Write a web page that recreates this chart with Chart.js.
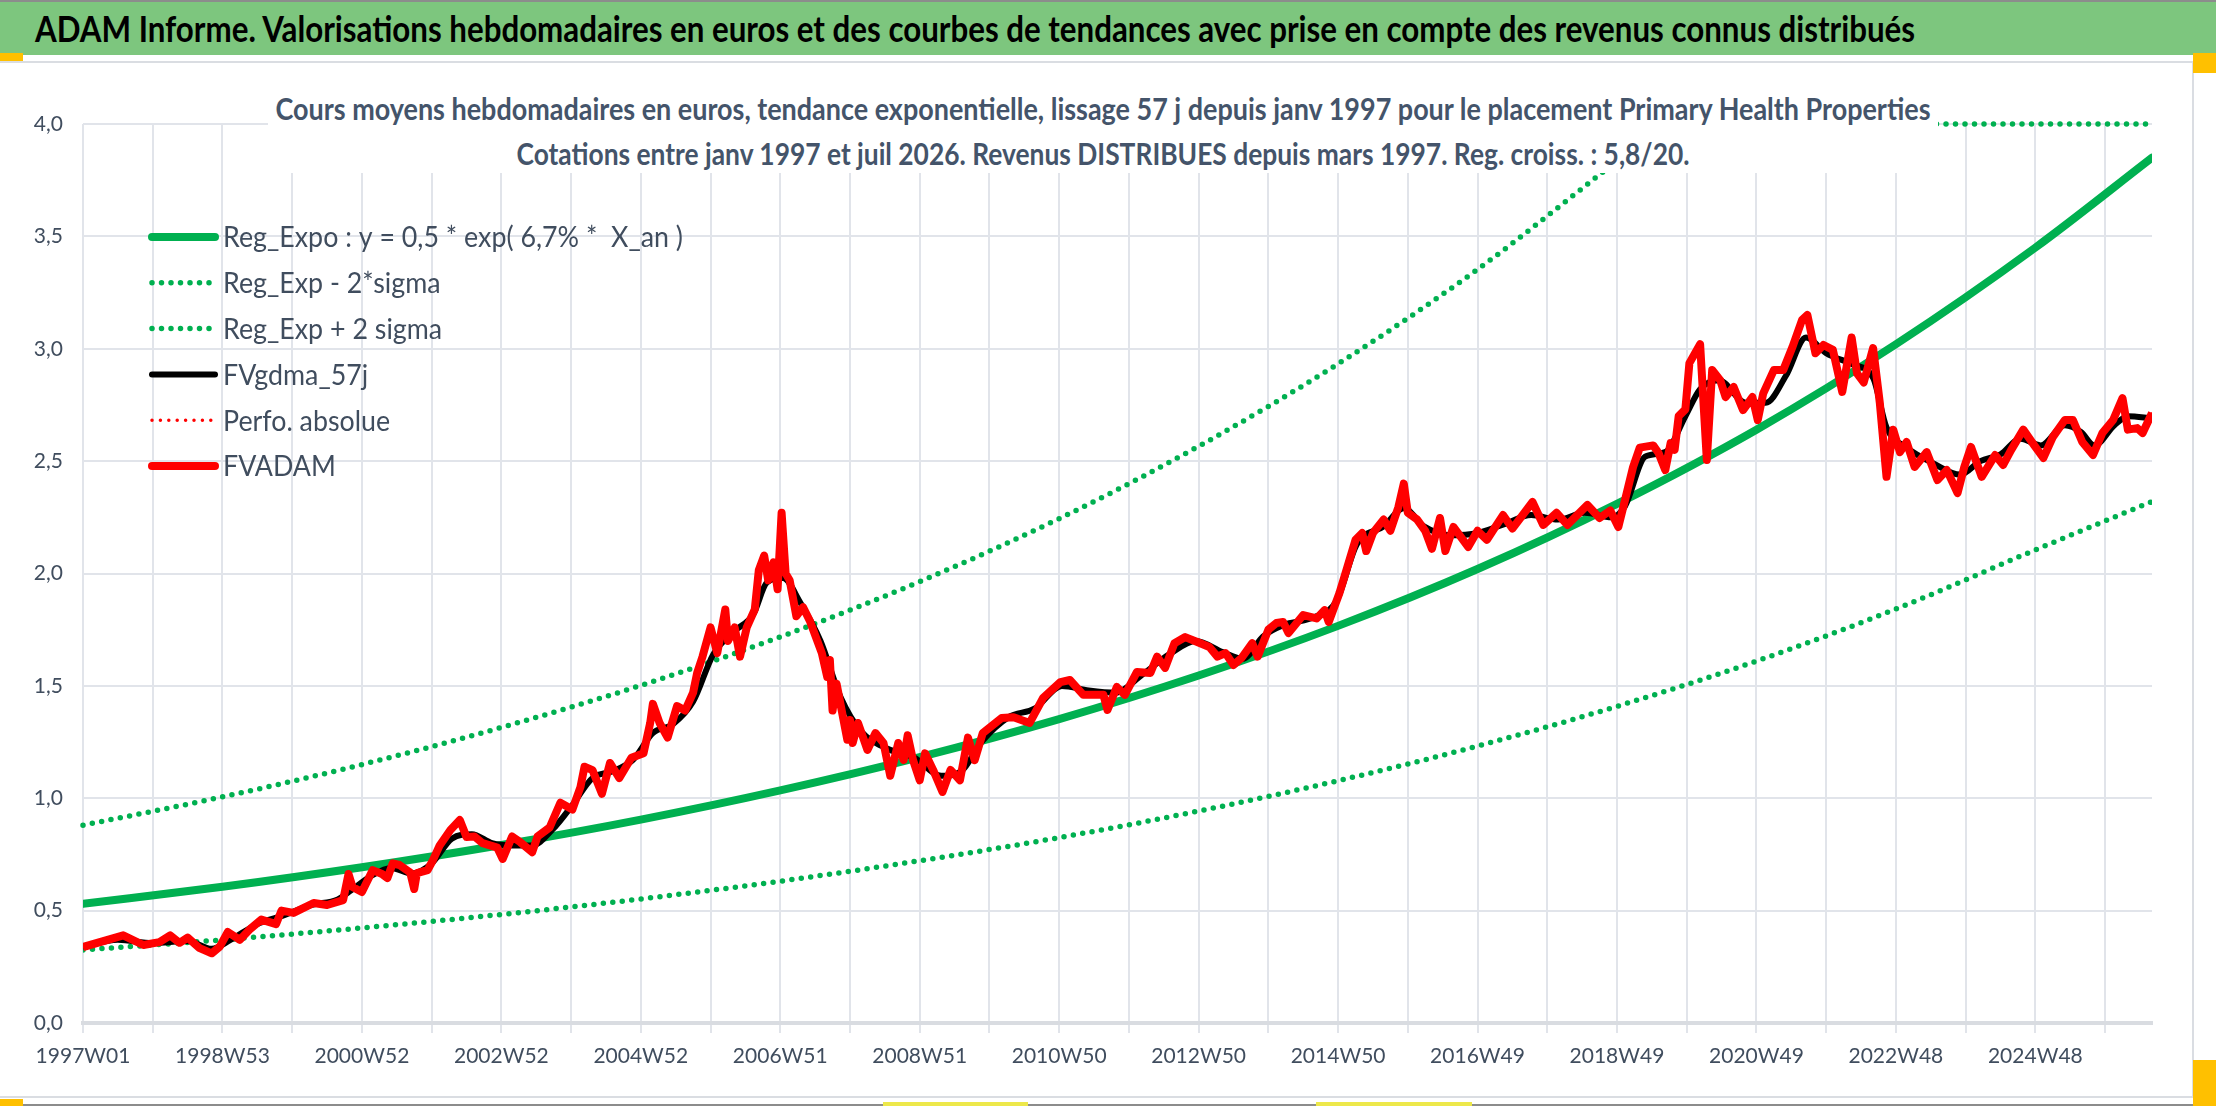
<!DOCTYPE html>
<html lang="fr">
<head>
<meta charset="utf-8">
<title>ADAM Informe - Primary Health Properties</title>
<script src="https://cdn.jsdelivr.net/npm/chart.js@4.4.1/dist/chart.umd.min.js"></script>
<style>
  html, body { margin: 0; padding: 0; background: #fff; }
  body { width: 2216px; height: 1106px; position: relative; overflow: hidden; font-family: Lato, 'Noto Sans', sans-serif; }
  #chart { position: absolute; left: 0; top: 0; }
  .deco { position: absolute; }
  #titlebar { position: absolute; left: 0; top: 2px; width: 2216px; height: 53px; background: #7DC67E; z-index: 3; }
  #title { position: absolute; left: 35px; top: 0; line-height: 53px; font-weight: bold; font-size: 36px; color: #000; white-space: pre; transform-origin: left center; }
  #subtitle { position: absolute; left: 268px; top: 80px; width: 1670px; height: 93px; background: #fff; z-index: 2; }
  .subline { position: absolute; left: 0; width: 100%; height: 40px; line-height: 40px; }
  .subline span { position: absolute; left: 50%; top: 0; font-weight: bold; font-size: 30.5px; color: #44546A; white-space: pre; transform-origin: left center; }
</style>
</head>
<body>
<div class="deco" style="left:0;top:0;width:2216px;height:2px;background:#8C8C8C"></div>
<div id="titlebar"><span id="title">ADAM Informe. Valorisations hebdomadaires en euros et des courbes de tendances avec prise en compte des revenus connus distribués</span></div>
<div class="deco" style="left:0;top:53px;width:23px;height:8px;background:#FFC000;z-index:4"></div>
<div class="deco" style="left:2193px;top:53px;width:23px;height:20px;background:#FFC000;z-index:4"></div>
<div class="deco" style="left:0;top:61px;width:2194px;height:2px;background:#DADDE2"></div>
<div class="deco" style="left:2192px;top:62px;width:2px;height:1036px;background:#DADDE2"></div>
<div class="deco" style="left:0;top:1096px;width:2194px;height:2px;background:#DADDE2"></div>
<div class="deco" style="left:0;top:1104px;width:2216px;height:2px;background:#8C8C8C"></div>
<div class="deco" style="left:0;top:1099px;width:23px;height:7px;background:#FFC000"></div>
<div class="deco" style="left:883px;top:1102px;width:145px;height:4px;background:#EDE84A"></div>
<div class="deco" style="left:1316px;top:1102px;width:156px;height:4px;background:#EDE84A"></div>
<div class="deco" style="left:2193px;top:1060px;width:23px;height:46px;background:#FFC000"></div>

<div id="subtitle">
  <div class="subline" style="top:8px"><span id="sub1">Cours moyens hebdomadaires en euros, tendance exponentielle, lissage 57 j depuis janv 1997 pour le placement Primary Health Properties</span></div>
  <div class="subline" style="top:53px"><span id="sub2">Cotations entre janv 1997 et juil 2026. Revenus DISTRIBUES depuis mars 1997. Reg. croiss. : 5,8/20.</span></div>
</div>

<canvas id="chart" width="2216" height="1106"></canvas>

<script>
// x = numéro de semaine depuis 1997W01
const weekTickLabels = ['1997W01', '1998W53', '2000W52', '2002W52', '2004W52', '2006W51', '2008W51',
  '2010W50', '2012W50', '2014W50', '2016W49', '2018W49', '2020W49', '2022W48', '2024W48'];
const lastWeek = 1543;

// tendances
const trendWeeks = [0, 104, 208, 312, 416, 520, 624, 728, 832, 936, 1040, 1144, 1248, 1352, 1456, 1543];
const regExpo = [0.53, 0.606, 0.693, 0.792, 0.905, 1.035, 1.183, 1.352, 1.546, 1.767, 2.02, 2.31, 2.64, 3.02, 3.45, 3.85];
const regExpLow = [0.325, 0.37, 0.423, 0.483, 0.552, 0.631, 0.722, 0.825, 0.943, 1.078, 1.232, 1.409, 1.61, 1.842, 2.105, 2.32];
const upperWeeks = [0, 104, 208, 312, 416, 520, 624, 728, 832, 936, 1040, 1144, 1180, 1543];
const regExpHigh = [0.88, 1.006, 1.15, 1.315, 1.502, 1.718, 1.964, 2.244, 2.566, 2.933, 3.353, 3.835, 4.0, 4.0];

// cours FVADAM
const fvadamWeeks = [
  0, 30, 45, 57, 65, 72, 78, 87, 96, 102,
  108, 117, 125, 133, 144, 148, 157, 172, 182, 194,
  198, 201, 208, 216, 223, 227, 231, 236, 244, 247,
  249, 257, 261, 266, 274, 281, 286, 292, 298, 309,
  313, 320, 326, 335, 339, 348, 356, 365, 371, 374,
  380, 387, 393, 400, 409, 418, 423, 425, 430, 436,
  443, 449, 455, 458, 462, 468, 473, 479, 481, 486,
  490, 495, 501, 504, 508, 511, 515, 518, 521, 524,
  527, 532, 537, 542, 551, 555, 557, 559, 562, 570,
  572, 574, 578, 585, 591, 597, 602, 608, 612, 615,
  619, 624, 628, 634, 641, 647, 654, 660, 665, 671,
  685, 694, 706, 716, 729, 736, 746, 761, 764, 771,
  777, 786, 796, 801, 807, 814, 822, 831, 840, 846,
  852, 858, 864, 872, 876, 884, 890, 895, 899, 910,
  920, 926, 929, 937, 943, 949, 954, 957, 962, 970,
  975, 981, 985, 988, 995, 1001, 1006, 1012, 1016, 1022,
  1033, 1040, 1047, 1059, 1066, 1081, 1089, 1099, 1107, 1122,
  1131, 1139, 1145, 1150, 1156, 1161, 1171, 1175, 1180, 1184,
  1187, 1190, 1195, 1198, 1206, 1211, 1215, 1221, 1225, 1231,
  1238, 1245, 1249, 1253, 1261, 1268, 1275, 1282, 1286, 1292,
  1298, 1305, 1312, 1319, 1323, 1328, 1335, 1340, 1345, 1350,
  1355, 1360, 1366, 1375, 1383, 1390, 1398, 1403, 1408, 1416,
  1426, 1432, 1438, 1447, 1454, 1462, 1469, 1478, 1484, 1491,
  1499, 1506, 1514, 1521, 1525, 1532, 1536, 1543
];
const fvadamValues = [
  0.338, 0.39, 0.347, 0.36, 0.39, 0.357, 0.38, 0.333, 0.31, 0.34,
  0.405, 0.37, 0.42, 0.46, 0.44, 0.50, 0.49, 0.534, 0.525, 0.547,
  0.663, 0.605, 0.583, 0.68, 0.663, 0.645, 0.71, 0.703, 0.67, 0.596,
  0.667, 0.68, 0.725, 0.79, 0.859, 0.903, 0.828, 0.83, 0.80, 0.78,
  0.73, 0.83, 0.805, 0.76, 0.83, 0.87, 0.98, 0.95, 1.05, 1.14,
  1.125, 1.02, 1.157, 1.09, 1.18, 1.20, 1.335, 1.42, 1.335, 1.27,
  1.41, 1.39, 1.47, 1.557, 1.63, 1.76, 1.646, 1.84, 1.70, 1.76,
  1.63, 1.76, 1.84, 2.015, 2.08, 1.97, 2.05, 1.93, 2.27, 2.00,
  1.97, 1.81, 1.85, 1.79, 1.646, 1.54, 1.615, 1.39, 1.51, 1.26,
  1.348, 1.246, 1.335, 1.215, 1.29, 1.246, 1.10, 1.246, 1.17, 1.28,
  1.17, 1.08, 1.20, 1.126, 1.028, 1.126, 1.08, 1.27, 1.17, 1.29,
  1.357, 1.36, 1.335, 1.446, 1.517, 1.526, 1.46, 1.46, 1.393, 1.495,
  1.46, 1.562, 1.557, 1.63, 1.58, 1.69, 1.717, 1.695, 1.673, 1.63,
  1.646, 1.593, 1.624, 1.69, 1.63, 1.75, 1.78, 1.784, 1.735, 1.815,
  1.80, 1.837, 1.784, 1.913, 2.03, 2.15, 2.18, 2.10, 2.18, 2.24,
  2.19, 2.296, 2.40, 2.27, 2.24, 2.19, 2.11, 2.247, 2.10, 2.207,
  2.118, 2.19, 2.15, 2.26, 2.20, 2.318, 2.216, 2.27, 2.216, 2.305,
  2.247, 2.28, 2.207, 2.327, 2.474, 2.56, 2.57, 2.536, 2.46, 2.58,
  2.55, 2.70, 2.73, 2.936, 3.02, 2.505, 2.905, 2.86, 2.785, 2.83,
  2.727, 2.785, 2.683, 2.80, 2.905, 2.905, 3.01, 3.128, 3.15, 2.98,
  3.017, 2.995, 2.808, 3.05, 2.89, 2.85, 3.003, 2.76, 2.43, 2.64,
  2.54, 2.585, 2.474, 2.54, 2.416, 2.46, 2.358, 2.474, 2.563, 2.43,
  2.527, 2.483, 2.55, 2.64, 2.58, 2.514, 2.607, 2.683, 2.683, 2.585,
  2.527, 2.625, 2.683, 2.78, 2.64, 2.647, 2.625, 2.714
];

// moyenne mobile 57 j
const gdmaWeeks = [
  0, 26, 52, 78, 96, 110, 130, 150, 170, 190,
  200, 215, 230, 245, 260, 275, 290, 305, 320, 335,
  350, 365, 380, 395, 410, 425, 440, 455, 470, 485,
  500, 510, 522, 535, 550, 565, 580, 600, 620, 640,
  655, 670, 690, 710, 730, 750, 770, 790, 810, 830,
  850, 865, 880, 895, 920, 935, 950, 970, 985, 1000,
  1020, 1040, 1060, 1080, 1100, 1120, 1140, 1150, 1165, 1180,
  1195, 1206, 1220, 1240, 1255, 1270, 1285, 1300, 1320, 1335,
  1345, 1360, 1380, 1400, 1415, 1430, 1445, 1460, 1478, 1490,
  1500, 1515, 1525, 1543
];
const gdmaValues = [
  0.34, 0.37, 0.355, 0.365, 0.33, 0.37, 0.44, 0.48, 0.525, 0.55,
  0.59, 0.655, 0.69, 0.665, 0.71, 0.82, 0.84, 0.80, 0.79, 0.79,
  0.86, 0.97, 1.09, 1.12, 1.17, 1.29, 1.33, 1.43, 1.64, 1.74,
  1.82, 1.96, 1.98, 1.87, 1.70, 1.45, 1.30, 1.22, 1.18, 1.10,
  1.12, 1.25, 1.36, 1.40, 1.50, 1.48, 1.47, 1.55, 1.64, 1.70,
  1.65, 1.62, 1.72, 1.77, 1.81, 1.88, 2.13, 2.21, 2.29, 2.21,
  2.17, 2.18, 2.22, 2.26, 2.24, 2.27, 2.25, 2.30, 2.52, 2.54,
  2.70, 2.82, 2.86, 2.76, 2.76, 2.88, 3.05, 2.98, 2.93, 2.87,
  2.65, 2.56, 2.49, 2.44, 2.50, 2.53, 2.60, 2.57, 2.66, 2.63,
  2.57, 2.66, 2.70, 2.69
];

function pts(xs, ys) {
  return xs.map((x, i) => ({ x: x, y: ys[i] }));
}

// fit html text to the width it has in the original
function fitWidth(id, w, centred) {
  const el = document.getElementById(id);
  const r = w / el.getBoundingClientRect().width;
  el.style.transform = (centred ? 'translateX(' + (-w / 2) + 'px) ' : '') + 'scaleX(' + r + ')';
}
fitWidth('title', 1880, false);
fitWidth('sub1', 1655, true);
fitWidth('sub2', 1173, true);

const textColor = '#404D5E';
const gridWeeks = [];
for (let w = 0; w <= lastWeek; w += 52) gridWeeks.push(w);

// legend drawn inside the plot, top left
const insideLegend = {
  id: 'insideLegend',
  afterDatasetsDraw(chart) {
    const ctx = chart.ctx;
    const sets = chart.data.datasets;
    ctx.save();
    ctx.font = '29px Lato';
    const sx = 460 / ctx.measureText(sets[0].label).width;
    sets.forEach((ds, i) => {
      const y = 237 + i * 45.8;
      ctx.beginPath();
      ctx.strokeStyle = ds.borderColor;
      ctx.lineWidth = ds.borderWidth;
      ctx.lineCap = 'round';
      ctx.setLineDash(ds.borderDash || []);
      ctx.moveTo(152, y);
      ctx.lineTo(215, y);
      ctx.stroke();
      ctx.setLineDash([]);
      ctx.save();
      ctx.translate(223, y + 1);
      ctx.scale(sx, 1);
      ctx.fillStyle = textColor;
      ctx.textBaseline = 'middle';
      ctx.fillText(ds.label, 0, 0);
      ctx.restore();
    });
    ctx.restore();
  }
};

const ctx = document.getElementById('chart').getContext('2d');
new Chart(ctx, {
  type: 'line',
  data: {
    datasets: [{
      label: 'Reg_Expo : y = 0,5 * exp( 6,7% *  X_an )',
      data: pts(trendWeeks, regExpo),
      borderColor: '#00B050',
      borderWidth: 8,
      borderCapStyle: 'round',
      cubicInterpolationMode: 'monotone',
      order: 3
    }, {
      label: 'Reg_Exp - 2*sigma',
      data: pts(trendWeeks, regExpLow),
      borderColor: '#00B050',
      borderWidth: 5.5,
      borderDash: [0, 9.5],
      borderCapStyle: 'round',
      cubicInterpolationMode: 'monotone',
      order: 4
    }, {
      label: 'Reg_Exp + 2 sigma',
      data: pts(upperWeeks, regExpHigh),
      borderColor: '#00B050',
      borderWidth: 5.5,
      borderDash: [0, 9.5],
      borderCapStyle: 'round',
      cubicInterpolationMode: 'monotone',
      clip: false,
      order: 5
    }, {
      label: 'FVgdma_57j',
      data: pts(gdmaWeeks, gdmaValues),
      borderColor: '#000000',
      borderWidth: 6,
      cubicInterpolationMode: 'monotone',
      order: 2
    }, {
      label: 'Perfo. absolue',
      data: pts(fvadamWeeks, fvadamValues),
      borderColor: '#FF0000',
      borderWidth: 3.5,
      borderDash: [0, 8.4],
      borderCapStyle: 'round',
      order: 1
    }, {
      label: 'FVADAM',
      data: pts(fvadamWeeks, fvadamValues),
      borderColor: '#FF0000',
      borderWidth: 8,
      borderJoinStyle: 'round',
      order: 0
    }]
  },
  options: {
    responsive: false,
    animation: false,
    events: [],
    devicePixelRatio: 1,
    layout: { padding: { top: 124, right: 64, left: 0, bottom: 0 } },
    elements: { point: { radius: 0 }, line: { tension: 0 } },
    plugins: { legend: { display: false }, tooltip: { enabled: false }, title: { display: false } },
    scales: {
      x: {
        type: 'linear',
        min: 0,
        max: lastWeek,
        afterBuildTicks: s => { s.ticks = gridWeeks.map(v => ({ value: v })); },
        afterFit: s => { s.height = 83; },
        ticks: {
          autoSkip: false,
          maxRotation: 0,
          padding: 11,
          color: textColor,
          font: { family: 'Lato', size: 21 },
          callback: v => (v % 104 === 0 ? weekTickLabels[v / 104] : '')
        },
        grid: { color: '#E1E4EA', lineWidth: 2, tickLength: 10, drawTicks: true },
        border: { display: true, color: '#D9DCE1', width: 4 }
      },
      y: {
        min: 0,
        max: 4,
        afterFit: s => { s.width = 83; },
        ticks: {
          stepSize: 0.5,
          padding: 20,
          color: textColor,
          font: { family: 'Lato', size: 21 },
          callback: v => v.toFixed(1).replace('.', ',')
        },
        grid: {
          color: c => (c.tick && c.tick.value === 0 ? '#D9DCE1' : '#E1E4EA'),
          lineWidth: c => (c.tick && c.tick.value === 0 ? 4 : 2),
          drawTicks: false
        },
        border: { display: false }
      }
    }
  },
  plugins: [insideLegend]
});
</script>
</body>
</html>
